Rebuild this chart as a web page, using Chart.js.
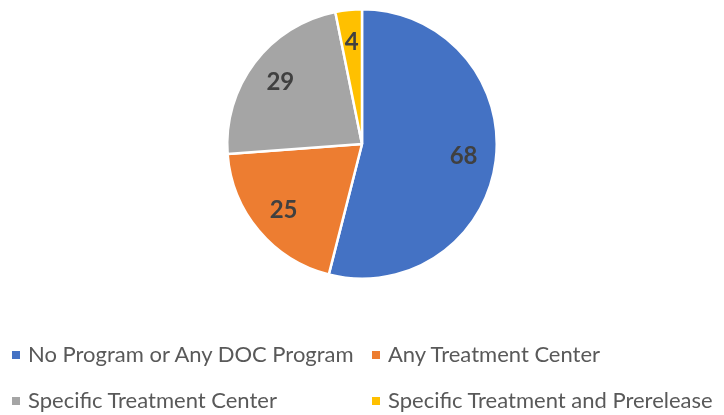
<!DOCTYPE html>
<html>
<head>
<meta charset="utf-8">
<script src="https://cdn.jsdelivr.net/npm/chart.js@4.4.1/dist/chart.umd.min.js"></script>
<style>
  body { margin: 0; background: #fff; }
  #wrap { position: relative; width: 724px; height: 415px; }
  #legend { position: absolute; left: 0; top: 0; width: 724px; font-family: Lato, "Open Sans", sans-serif; font-size: 22px; color: #595959; }
  .item { position: absolute; white-space: nowrap; line-height: 22px; }
  .box { display: inline-block; width: 8px; height: 8px; margin-right: 8px; vertical-align: 3px; }
</style>
</head>
<body>
<div id="wrap">
  <canvas id="myChart1" width="724" height="415"></canvas>
  <div id="legend"></div>
</div>
<script>
// pie values
const categories = ['No Program or Any DOC Program', 'Any Treatment Center', 'Specific Treatment Center', 'Specific Treatment and Prerelease'];
const counts = [68, 25, 29, 4];
const colors = ['#4472C4', '#ED7D31', '#A5A5A5', '#FFC000'];

// labels inside the slices
const sliceLabels = {
    id: 'sliceLabels',
    afterDatasetsDraw(chart) {
        const c = chart.ctx;
        const meta = chart.getDatasetMeta(0);
        c.save();
        c.font = 'bold 24px Lato, "Open Sans", sans-serif';
        c.fillStyle = '#404040';
        c.textAlign = 'center';
        c.textBaseline = 'middle';
        meta.data.forEach(function(arc, i) {
            const mid = (arc.startAngle + arc.endAngle) / 2;
            const r = arc.outerRadius * 0.76;
            c.fillText(counts[i], arc.x + Math.cos(mid) * r, arc.y + Math.sin(mid) * r);
        });
        c.restore();
    }
};

const ctx = document.getElementById('myChart1');
const myChart1 = new Chart(ctx, {
    type: 'pie',
    data: {
        labels: categories,
        datasets: [{
            data: counts,
            backgroundColor: colors,
            borderColor: '#ffffff',
            borderWidth: 2.5
        }]
    },
    options: {
        responsive: false,
        animation: false,
        layout: { padding: { top: 8, bottom: 135, left: 0, right: 0 } },
        plugins: {
            legend: { display: false },
            tooltip: { enabled: false }
        }
    },
    plugins: [sliceLabels]
});

// legend laid out in two columns like the original
const legend = document.getElementById('legend');
const cols = [12, 372];
const rows = [343, 389];
for (let i = 0; i < categories.length; i++) {
    const d = document.createElement('div');
    d.className = 'item';
    d.style.left = cols[i % 2] + 'px';
    d.style.top = rows[Math.floor(i / 2)] + 'px';
    d.innerHTML = '<span class="box" style="background:' + colors[i] + '"></span>' + categories[i];
    legend.appendChild(d);
}
</script>
</body>
</html>
